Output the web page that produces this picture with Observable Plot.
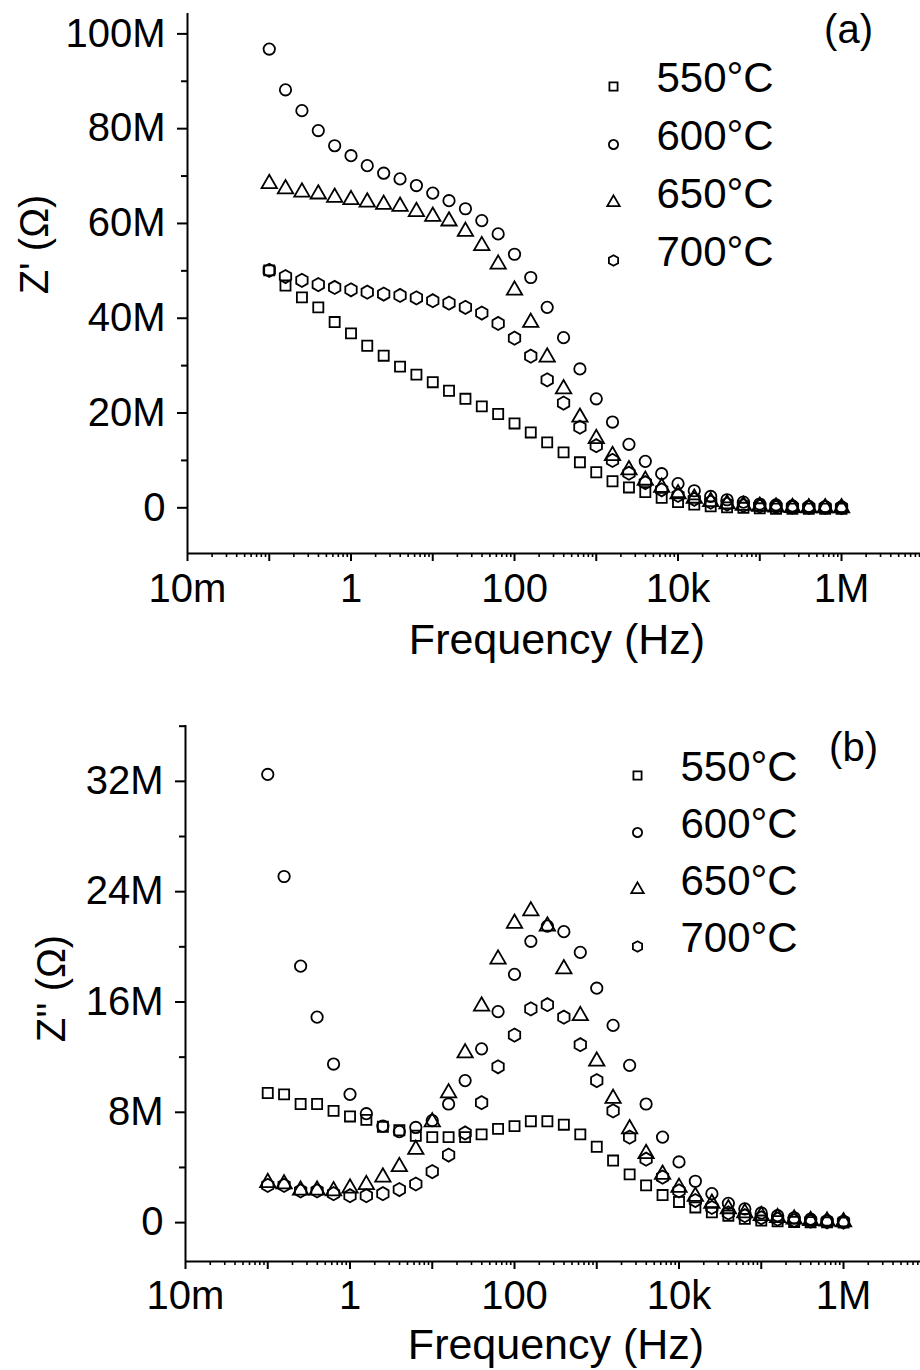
<!DOCTYPE html>
<html><head><meta charset="utf-8">
<script src="https://cdn.jsdelivr.net/npm/d3@7"></script>
<script src="https://cdn.jsdelivr.net/npm/@observablehq/plot@0.6"></script>
<style>
body{margin:0;background:#fff;}
#page{position:relative;width:920px;height:1370px;background:#fff;}
#page > svg{display:block;}
.legend{position:absolute;}
</style></head><body><div id="page"></div>
<script>
const FONT = '"Liberation Sans", Arial, sans-serif';
const temps = ["550", "600", "650", "700"];
const symbols = ["square", "circle", "triangle", "hexagon"];
const freqs = [0.1, 0.158, 0.251, 0.398, 0.631, 1, 1.58, 2.51, 3.98, 6.31,
  10, 15.8, 25.1, 39.8, 63.1, 100, 158, 251, 398, 631,
  1000, 1580, 2510, 3980, 6310, 10000, 15800, 25100, 39800, 63100,
  100000, 158000, 251000, 398000, 631000, 1000000];

// (a) Z' in MΩ
const zReal550 = [50.1, 46.9, 44.4, 42.3, 39.2, 36.8, 34.2, 32.1, 29.8, 28.1, 26.5, 24.7, 23.0, 21.4, 19.8, 17.8, 15.9, 13.8, 11.7, 9.6, 7.5, 5.6, 4.3, 3.3, 2.1, 1.2, 0.7, 0.3, 0.1, 0.0, -0.1, -0.2, -0.2, -0.2, -0.2, -0.2];
const zReal600 = [96.8, 88.2, 83.8, 79.6, 76.4, 74.3, 72.2, 70.6, 69.4, 68.0, 66.4, 64.8, 63.1, 60.6, 57.8, 53.5, 48.6, 42.3, 35.9, 29.3, 23.0, 18.1, 13.4, 9.8, 7.2, 5.1, 3.6, 2.4, 1.7, 1.2, 0.8, 0.6, 0.4, 0.3, 0.25, 0.2];
const zReal650 = [68.4, 67.3, 66.6, 66.2, 65.5, 65.0, 64.5, 64.0, 63.6, 62.5, 61.5, 60.5, 58.3, 55.3, 51.4, 45.9, 39.1, 31.8, 25.1, 19.1, 14.6, 11.0, 8.0, 5.8, 4.3, 2.95, 2.0, 1.3, 0.8, 0.5, 0.3, 0.15, 0.05, 0.0, 0.0, 0.0];
const zReal700 = [50.1, 48.8, 48.0, 47.1, 46.5, 46.0, 45.5, 45.1, 44.8, 44.3, 43.7, 43.2, 42.3, 41.1, 38.9, 35.8, 32.0, 27.0, 22.1, 17.0, 13.1, 10.0, 7.3, 5.3, 3.8, 2.6, 1.8, 1.2, 0.8, 0.5, 0.35, 0.25, 0.15, 0.1, 0.1, 0.05];

// (b) Z'' in MΩ
const zImag550 = [9.4, 9.3, 8.6, 8.6, 8.1, 7.7, 7.45, 6.95, 6.7, 6.3, 6.2, 6.2, 6.2, 6.4, 6.8, 7.0, 7.35, 7.35, 7.1, 6.4, 5.5, 4.5, 3.5, 2.7, 2.0, 1.5, 1.1, 0.75, 0.5, 0.27, 0.15, 0.1, 0.05, 0.03, 0.02, 0.0];
const zImag600 = [32.5, 25.1, 18.6, 14.9, 11.5, 9.3, 7.9, 7.0, 6.6, 6.9, 7.4, 8.6, 10.3, 12.6, 15.3, 18.0, 20.4, 21.5, 21.1, 19.6, 17.0, 14.3, 11.4, 8.6, 6.2, 4.4, 3.0, 2.1, 1.4, 1.0, 0.7, 0.5, 0.35, 0.25, 0.15, 0.1];
const zImag650 = [2.9, 2.8, 2.35, 2.35, 2.3, 2.5, 2.75, 3.3, 4.05, 5.3, 7.3, 9.4, 12.3, 15.7, 19.1, 21.7, 22.6, 21.5, 18.4, 15.0, 11.7, 9.0, 6.8, 5.0, 3.5, 2.55, 1.9, 1.4, 1.0, 0.7, 0.5, 0.35, 0.25, 0.15, 0.1, 0.05];
const zImag700 = [2.7, 2.7, 2.3, 2.3, 2.1, 1.95, 1.95, 2.1, 2.4, 2.8, 3.7, 4.9, 6.5, 8.7, 11.3, 13.6, 15.5, 15.8, 14.9, 12.9, 10.3, 8.1, 6.2, 4.6, 3.3, 2.3, 1.6, 1.1, 0.7, 0.5, 0.35, 0.25, 0.15, 0.1, 0.05, 0.03];

const xMajor = [0.01, 0.1, 1, 10, 100, 1e3, 1e4, 1e5, 1e6];
const xLabelValues = [0.01, 1, 100, 1e4, 1e6];
const xLabelText = ["10m", "1", "100", "10k", "1M"];
const xMinor = [];
xMajor.forEach(d => { for (let m = 2; m <= 9; m++) xMinor.push(d * m); });

const yTicksA = [0, 20, 40, 60, 80, 100];
const yMinorA = [10, 30, 50, 70, 90];
const yTicksB = [0, 8, 16, 24, 32];
const yMinorB = [4, 12, 20, 28, 36];

const yFmt = d => d === 0 ? "0" : d + "M";
const xFmt = d => { const i = xLabelValues.indexOf(d); return i >= 0 ? xLabelText[i] : ""; };

function panel(c) {
  const data = [];
  temps.forEach((t, i) => freqs.forEach((f, k) => data.push({t, f, v: c.values[i][k]})));
  return Plot.plot({
    width: 920, height: c.height,
    marginTop: c.mt, marginBottom: c.mb, marginLeft: c.ml, marginRight: 0,
    style: {fontFamily: FONT, fontSize: "40px", color: "#000", background: "#fff", overflow: "visible"},
    x: {type: "log", domain: c.xDomain},
    y: {domain: c.yDomain},
    symbol: {domain: temps, range: symbols},
    marks: [
      Plot.axisX({ticks: xMinor, tickSize: 4, tickFormat: () => "", strokeWidth: 1.6, label: null}),
      Plot.axisX({ticks: xMajor, tickSize: 8, tickPadding: c.xPad, tickFormat: xFmt, strokeWidth: 2, fontSize: 40, label: null}),
      Plot.axisY({ticks: c.yMinor, tickSize: 6, tickFormat: () => "", strokeWidth: 2, label: null}),
      Plot.axisY({ticks: c.yTicks, tickSize: 10, tickPadding: 12, tickFormat: yFmt, strokeWidth: 2, fontSize: 40, label: null}),
      Plot.ruleX([c.xDomain[0]], {stroke: "black", strokeWidth: 2}),
      Plot.ruleY([c.yDomain[0]], {stroke: "black", strokeWidth: 2}),
      Plot.dot(data, {x: "f", y: "v", symbol: "t", r: 5.7, stroke: "black", strokeWidth: 1.8, fill: "none"}),
      Plot.text(["Frequency (Hz)"], {frameAnchor: "bottom", text: d => d, lineAnchor: "bottom", dy: c.xlDy, dx: 3, fontSize: 43, fill: "black"}),
      Plot.text([c.yLabel], {frameAnchor: "left", text: d => d, rotate: -90, dx: c.ylDx, dy: c.ylDy, textAnchor: "middle", lineAnchor: "middle", fontSize: 40, fill: "black"}),
      Plot.text([c.tag], {frameAnchor: "top-right", text: d => d, dx: c.tagDx, dy: c.tagDy, textAnchor: "middle", lineAnchor: "middle", fontSize: 40, fill: "black"})
    ]
  });
}

function legend(c) {
  const svg = Plot.plot({
    width: 220, height: c.height, marginTop: 0, marginBottom: 0, marginLeft: 12, marginRight: 0,
    style: {fontFamily: FONT, fontSize: "42px", color: "#000", background: "transparent", overflow: "visible"},
    x: {axis: null},
    y: {type: "point", domain: temps, range: c.rows, padding: 0, axis: null},
    symbol: {domain: temps, range: symbols},
    marks: [
      Plot.dot(temps, {y: d => d, symbol: d => d, frameAnchor: "left", r: 4.6, stroke: "black", strokeWidth: 1.8, fill: "none"}),
      Plot.text(temps, {y: d => d, frameAnchor: "left", text: d => d + "°C", dx: 43, dy: 5, textAnchor: "start", lineAnchor: "bottom", fontSize: 42, fill: "black"})
    ]
  });
  svg.classList.add("legend");
  svg.style.left = c.left + "px";
  svg.style.top = c.top + "px";
  return svg;
}

const page = document.getElementById("page");
page.appendChild(panel({
  values: [zReal550, zReal600, zReal650, zReal700],
  height: 685, mt: 13, mb: 132, ml: 187,
  xDomain: [0.01, Math.pow(10, 6.966)], yDomain: [-9.64, 104.3],
  yTicks: yTicksA, yMinor: yMinorA, xPad: 12,
  yLabel: "Z' (Ω)", ylDx: -152, ylDy: -39, xlDy: 100,
  tag: "(a)", tagDx: -72, tagDy: 17
}));
page.appendChild(panel({
  values: [zImag550, zImag600, zImag650, zImag700],
  height: 685, mt: 40, mb: 109, ml: 185,
  xDomain: [0.01, Math.pow(10, 6.936)], yDomain: [-2.82, 36.05],
  yTicks: yTicksB, yMinor: yMinorB, xPad: 11,
  yLabel: "Z'' (Ω)", ylDx: -133, ylDy: -5, xlDy: 97,
  tag: "(b)", tagDx: -67, tagDy: 23
}));
page.appendChild(legend({left: 601, top: 0, height: 290, rows: [86, 260]}));
page.appendChild(legend({left: 625, top: 720, height: 250, rows: [55, 226]}));
</script></body></html>
